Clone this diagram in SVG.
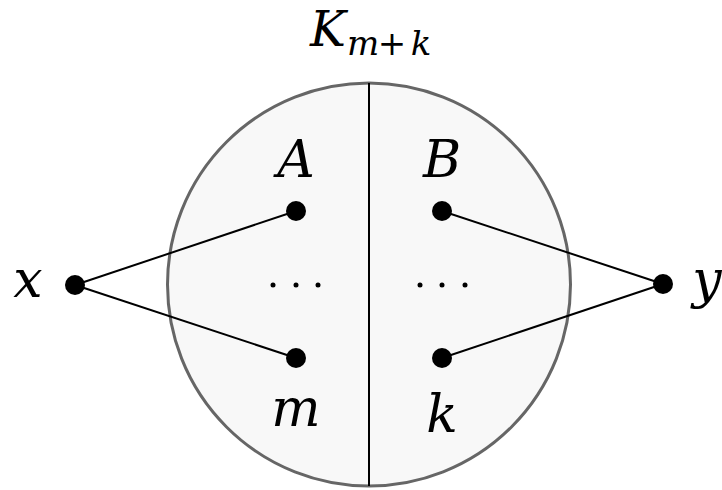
<svg xmlns="http://www.w3.org/2000/svg" width="722" height="490" viewBox="0 0 722 490">
<style>
.lbl{font-family:"DejaVu Serif","Liberation Serif",serif;font-style:italic;fill:#000;text-anchor:middle}
.up{font-style:normal}
.edge{stroke:#000;stroke-width:2;fill:none}
.node{fill:#000}
.dot{fill:#000}
</style>
<rect width="722" height="490" fill="#fff"/>
<g id="graph-K">
<circle cx="369" cy="284.5" r="201.5" fill="#f8f8f8" stroke="#666" stroke-width="3"/>
<line x1="369" y1="83" x2="369" y2="486" stroke="#000" stroke-width="2"/>
<text class="lbl" font-size="48" x="328" y="46">K</text>
<text class="lbl" font-size="34" y="55"><tspan x="363">m</tspan><tspan class="up" x="392">+</tspan><tspan x="421">k</tspan></text>
</g>
<g id="connectors">
<line class="edge" x1="75" y1="285" x2="296" y2="211"/>
<line class="edge" x1="75" y1="285" x2="296" y2="358"/>
<line class="edge" x1="442" y1="211" x2="663" y2="284"/>
<line class="edge" x1="442" y1="358" x2="663" y2="284"/>
</g>
<g id="node-x"><circle class="node" cx="75" cy="285" r="10"/><text class="lbl" font-size="52" x="28" y="297">x</text></g>
<g id="node-y"><circle class="node" cx="663" cy="284" r="10"/><text class="lbl" font-size="52" x="707" y="297">y</text></g>
<g id="node-A"><circle class="node" cx="296" cy="211" r="10"/><text class="lbl" font-size="52" x="296" y="177">A</text></g>
<g id="node-B"><circle class="node" cx="442" cy="211" r="10"/><text class="lbl" font-size="52" x="442" y="177">B</text></g>
<g id="node-m"><circle class="node" cx="296" cy="358" r="10"/><text class="lbl" font-size="52" x="296" y="426">m</text></g>
<g id="node-k"><circle class="node" cx="442" cy="358" r="10"/><text class="lbl" font-size="52" x="442" y="432">k</text></g>
<g id="dots-A"><circle class="dot" cx="273" cy="285" r="2.5"/><circle class="dot" cx="296" cy="285" r="2.5"/><circle class="dot" cx="318" cy="285" r="2.5"/></g>
<g id="dots-B"><circle class="dot" cx="420" cy="285" r="2.5"/><circle class="dot" cx="442" cy="285" r="2.5"/><circle class="dot" cx="465" cy="285" r="2.5"/></g>
</svg>
